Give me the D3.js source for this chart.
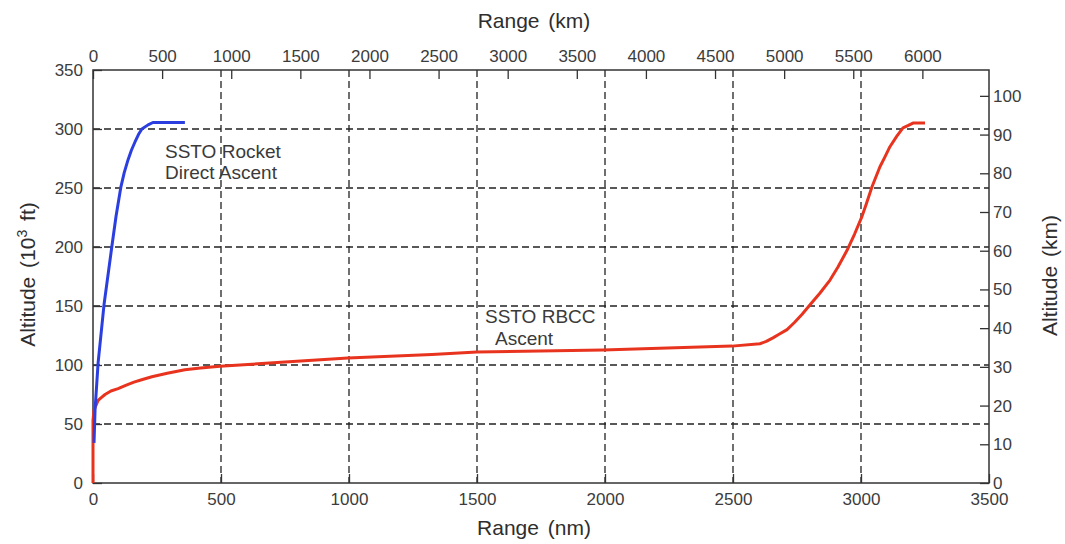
<!DOCTYPE html>
<html>
<head>
<meta charset="utf-8">
<script src="https://cdn.jsdelivr.net/npm/d3@7"></script>
<style>
    body { margin: 0; background: #fff; }
    #chart { width: 1065px; height: 544px; }
    .axis text { font-family: "Liberation Sans", Arial, sans-serif; font-size: 17px; fill: #3c3c3c; }
    .axis line { stroke: #333; stroke-width: 1.3; }
    .axis path { display: none; }
    .grid line { stroke: #222; stroke-width: 1.3; stroke-dasharray: 7,4; }
    .axis-label { font-family: "Liberation Sans", Arial, sans-serif; font-size: 21px; fill: #2e2e2e; word-spacing: 3px; }
    .note { font-family: "Liberation Sans", Arial, sans-serif; font-size: 19px; fill: #3a3a3a; }
</style>
</head>
<body>
<div id="chart"></div>
<script>
// Range in nautical miles, altitude in thousands of feet
const rocketRange = [4, 8, 20, 43, 74, 90, 109, 122, 137, 150, 164, 178, 191, 215, 234, 300, 359];
const rocketAlt   = [34, 62, 102, 151, 201, 226, 251, 263, 274, 282, 289, 295.5, 300, 303.5, 305.5, 305.5, 305.5];

const rbccRange = [0, 0, 4, 10, 20, 30, 47, 70, 98, 130, 160, 190, 230, 290, 359, 420, 496, 750, 996, 1324, 1500, 1992, 2496, 2605, 2630, 2656, 2680, 2711, 2740, 2770, 2801, 2840, 2879, 2910, 2945, 2975, 3004, 3020, 3043, 3074, 3095, 3113, 3140, 3164, 3185, 3203, 3250];
const rbccAlt   = [0, 53, 62, 65, 70, 72, 75, 78, 80, 83, 85.5, 87.5, 90, 93, 96, 97.5, 99, 102.5, 106, 109, 111, 112.7, 116, 118, 120, 123, 126, 130, 136, 143, 151, 161, 172, 183, 197, 211, 226, 236, 251, 268, 277, 285, 294, 301, 303, 305, 305];

// Tick values for the four axes
const nmTicks  = d3.range(0, 3501, 500);
const kmTicks  = d3.range(0, 6001, 500);
const kftTicks = d3.range(0, 351, 50);
const kmAltTicks = d3.range(0, 101, 10);

const NM_TO_KM = 1.852;
const KFT_TO_KM = 0.3048;

// Set margins and dimensions
const margin = { top: 70, right: 76, bottom: 61, left: 93 };
const width = 1065 - margin.left - margin.right;
const height = 544 - margin.top - margin.bottom;

const svg = d3.select("#chart").append("svg")
    .attr("width", 1065)
    .attr("height", 544)
    .append("g")
    .attr("transform", "translate(" + margin.left + "," + margin.top + ")");

// Scales: primary (nm / kft) and secondary (km / km)
const x = d3.scaleLinear().domain([0, 3500]).range([0, width]);
const xKm = d3.scaleLinear().domain([0, 3500 * NM_TO_KM]).range([0, width]);
const y = d3.scaleLinear().domain([0, 350]).range([height, 0]);
const yKm = d3.scaleLinear().domain([0, 350 * KFT_TO_KM]).range([height, 0]);

const plain = d3.format("d");

// Dashed grid
const grid = svg.append("g").attr("class", "grid");
grid.selectAll(".vgrid")
    .data(nmTicks.filter(d => d > 0 && d < 3500))
    .enter().append("line")
    .attr("x1", d => x(d)).attr("x2", d => x(d))
    .attr("y1", 0).attr("y2", height);
grid.selectAll(".hgrid")
    .data(kftTicks.filter(d => d > 0 && d < 350))
    .enter().append("line")
    .attr("x1", 0).attr("x2", width)
    .attr("y1", d => y(d)).attr("y2", d => y(d));

// Axes (ticks point inward)
svg.append("g")
    .attr("class", "axis")
    .attr("transform", "translate(0," + height + ")")
    .call(d3.axisBottom(x).tickValues(nmTicks).tickFormat(plain).tickSizeInner(-9).tickSizeOuter(0).tickPadding(10));

svg.append("g")
    .attr("class", "axis")
    .call(d3.axisTop(xKm).tickValues(kmTicks).tickFormat(plain).tickSizeInner(-9).tickSizeOuter(0).tickPadding(8));

svg.append("g")
    .attr("class", "axis")
    .call(d3.axisLeft(y).tickValues(kftTicks).tickFormat(plain).tickSizeInner(-9).tickSizeOuter(0).tickPadding(10));

svg.append("g")
    .attr("class", "axis")
    .attr("transform", "translate(" + width + ",0)")
    .call(d3.axisRight(yKm).tickValues(kmAltTicks).tickFormat(plain).tickSizeInner(-9).tickSizeOuter(0).tickPadding(4));

// Frame
svg.append("rect")
    .attr("width", width)
    .attr("height", height)
    .attr("fill", "none")
    .attr("stroke", "#333")
    .attr("stroke-width", 1.5);

// Curves
const line = d3.line()
    .x(d => x(d[0]))
    .y(d => y(d[1]));

svg.append("path")
    .datum(rbccRange.map((r, i) => [r, rbccAlt[i]]))
    .attr("fill", "none")
    .attr("stroke", "#e8341f")
    .attr("stroke-width", 3)
    .attr("stroke-linejoin", "round")
    .attr("d", line);

svg.append("path")
    .datum(rocketRange.map((r, i) => [r, rocketAlt[i]]))
    .attr("fill", "none")
    .attr("stroke", "#2b3fe0")
    .attr("stroke-width", 3)
    .attr("stroke-linejoin", "round")
    .attr("d", line);

// Annotations
svg.append("text").attr("class", "note").attr("x", 72).attr("y", 88).text("SSTO Rocket");
svg.append("text").attr("class", "note").attr("x", 72).attr("y", 109).text("Direct Ascent");
svg.append("text").attr("class", "note").attr("x", 392).attr("y", 253).text("SSTO RBCC");
svg.append("text").attr("class", "note").attr("x", 402).attr("y", 275).text("Ascent");

// Axis titles
svg.append("text")
    .attr("class", "axis-label")
    .attr("x", width / 2 - 7)
    .attr("y", -42)
    .style("text-anchor", "middle")
    .text("Range (km)");

svg.append("text")
    .attr("class", "axis-label")
    .attr("x", width / 2 - 7)
    .attr("y", height + 52)
    .style("text-anchor", "middle")
    .text("Range (nm)");

const leftTitle = svg.append("text")
    .attr("class", "axis-label")
    .attr("transform", "translate(" + (-58) + "," + (height / 2 - 2) + ") rotate(-90)")
    .style("text-anchor", "middle");
leftTitle.append("tspan").text("Altitude (10");
leftTitle.append("tspan").attr("dy", -8).style("font-size", "14px").text("3");
leftTitle.append("tspan").attr("dy", 8).text(" ft)");

svg.append("text")
    .attr("class", "axis-label")
    .attr("transform", "translate(" + (width + 68) + "," + (height / 2 - 1) + ") rotate(-90)")
    .style("text-anchor", "middle")
    .text("Altitude (km)");
</script>
</body>
</html>
